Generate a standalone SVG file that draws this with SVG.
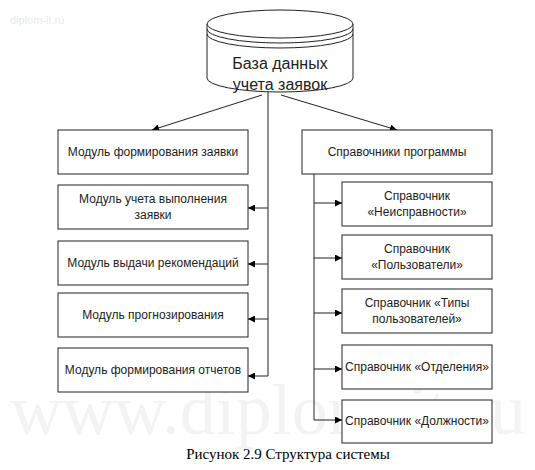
<svg xmlns="http://www.w3.org/2000/svg" width="535" height="470" viewBox="0 0 535 470">
<defs>
<marker id="ah" viewBox="0 0 10 10" refX="10" refY="5" markerWidth="9" markerHeight="7" markerUnits="userSpaceOnUse" orient="auto"><path d="M0,0 L10,5 L0,10 z" fill="#000"/></marker>
</defs>
<style>
.box{fill:#fff;stroke:#222;stroke-width:1}
.t{font-family:"Liberation Sans",Arial,sans-serif;font-size:12px;fill:#222;text-anchor:middle}
.c{fill:none;stroke:#222;stroke-width:1}
.a{fill:none;stroke:#222;stroke-width:1;marker-end:url(#ah)}
.wm{font-family:"Liberation Serif",serif;fill:#f3f3f3}
</style>
<rect width="535" height="470" fill="#fff"/>
<text x="10" y="24" font-family="Liberation Sans,Arial,sans-serif" font-size="11" fill="#e6ece6">diplom-it.ru</text>
<text x="268" y="434" class="wm" font-size="72" text-anchor="middle">www.diplom-it.ru</text>
<g id="connectors">
<line class="c" x1="268" y1="92" x2="268" y2="376"/>
<line class="a" x1="262" y1="95" x2="152" y2="130"/>
<line class="a" x1="281" y1="95" x2="397" y2="130"/>
<line class="a" x1="268" y1="208" x2="248" y2="208"/>
<line class="a" x1="268" y1="264" x2="248" y2="264"/>
<line class="a" x1="268" y1="319" x2="248" y2="319"/>
<line class="a" x1="268" y1="376" x2="248" y2="376"/>
<line class="c" x1="314" y1="174" x2="314" y2="420"/>
<line class="a" x1="314" y1="203" x2="342" y2="203"/>
<line class="a" x1="314" y1="258" x2="342" y2="258"/>
<line class="a" x1="314" y1="313" x2="342" y2="313"/>
<line class="a" x1="314" y1="369" x2="342" y2="369"/>
<line class="a" x1="314" y1="420" x2="342" y2="420"/>
</g>
<g id="db">
<path d="M207,24 L207,78 A73,14 0 0 0 353,78 L353,24" fill="#fff" stroke="#222"/>
<ellipse cx="280" cy="24" rx="73" ry="14" fill="#fff" stroke="#222"/>
<path d="M207,29 A73,14 0 0 0 353,29 M207,34 A73,14 0 0 0 353,34" fill="none" stroke="#222"/>
<text x="280" y="69" font-family="Liberation Sans,Arial,sans-serif" font-size="16" fill="#222" text-anchor="middle">База данных</text>
<text x="280" y="90" font-family="Liberation Sans,Arial,sans-serif" font-size="16" fill="#222" text-anchor="middle">учета заявок</text>
</g>
<g id="m1"><rect class="box" x="58" y="130" width="190" height="44"/><text class="t" x="153" y="156">Модуль формирования заявки</text></g>
<g id="m2"><rect class="box" x="58" y="185" width="190" height="44"/><text class="t" x="153" y="203">Модуль учета выполнения</text><text class="t" x="153" y="219">заявки</text></g>
<g id="m3"><rect class="box" x="58" y="241" width="190" height="44"/><text class="t" x="153" y="267">Модуль выдачи рекомендаций</text></g>
<g id="m4"><rect class="box" x="58" y="293" width="190" height="44"/><text class="t" x="153" y="319">Модуль прогнозирования</text></g>
<g id="m5"><rect class="box" x="58" y="348" width="190" height="44"/><text class="t" x="153" y="374">Модуль формирования отчетов</text></g>
<g id="r0"><rect class="box" x="302" y="130" width="190" height="44"/><text class="t" x="397" y="156">Справочники программы</text></g>
<g id="r1"><rect class="box" x="342" y="182" width="150" height="44"/><text class="t" x="417" y="200">Справочник</text><text class="t" x="417" y="216">«Неисправности»</text></g>
<g id="r2"><rect class="box" x="342" y="235" width="150" height="44"/><text class="t" x="417" y="253">Справочник</text><text class="t" x="417" y="269">«Пользователи»</text></g>
<g id="r3"><rect class="box" x="342" y="289" width="150" height="44"/><text class="t" x="417" y="307">Справочник «Типы</text><text class="t" x="417" y="323">пользователей»</text></g>
<g id="r4"><rect class="box" x="342" y="345" width="150" height="44"/><text class="t" x="417" y="371">Справочник «Отделения»</text></g>
<g id="r5"><rect class="box" x="342" y="400" width="150" height="43"/><text class="t" x="417" y="425">Справочник «Должности»</text></g>
<text x="288" y="459" font-family="Liberation Serif,Times New Roman,serif" font-size="15" fill="#000" text-anchor="middle">Рисунок 2.9 Структура системы</text>
</svg>
